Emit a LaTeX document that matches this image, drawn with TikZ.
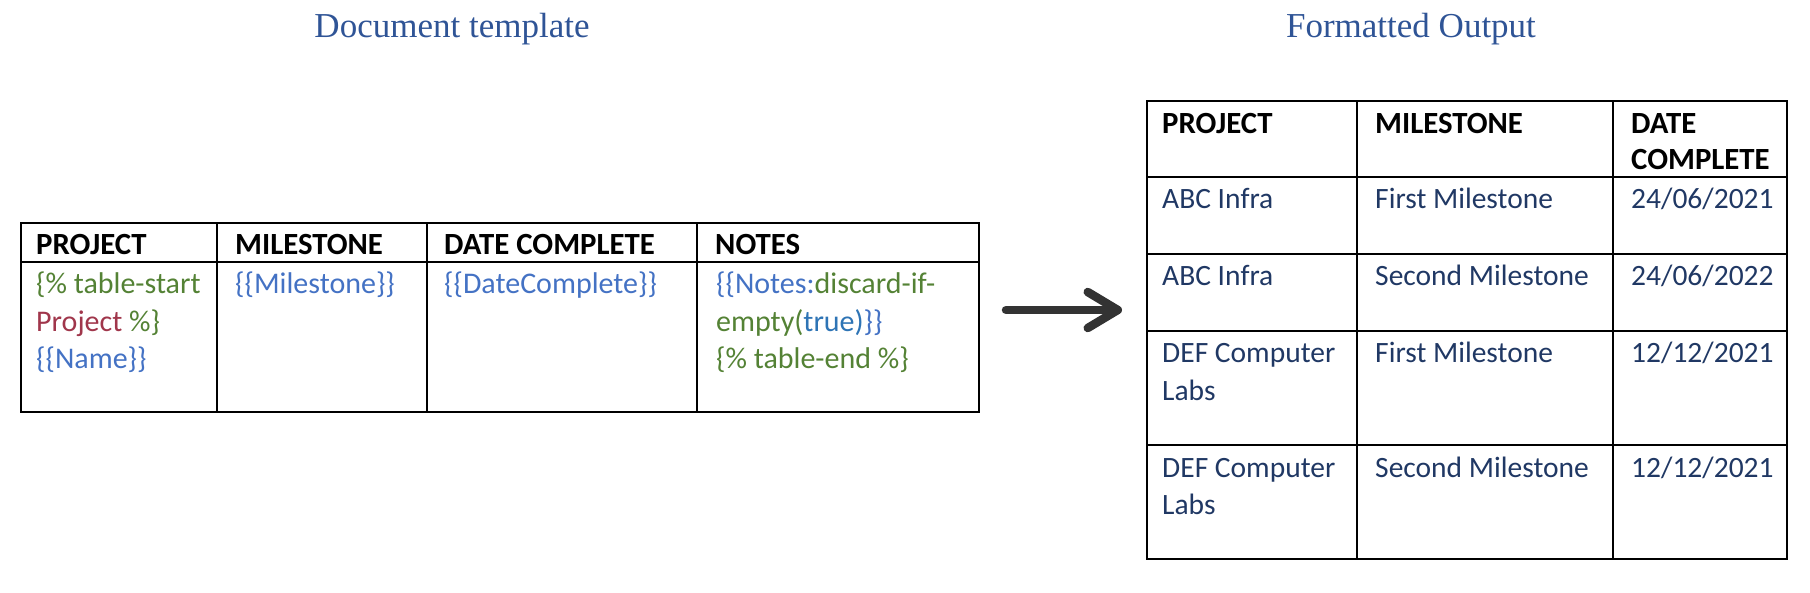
\documentclass[tikz,border=0pt]{standalone}
\usepackage{fontspec}
\setmainfont{Liberation Serif}
\newfontfamily\cellfont{Carlito}
\usetikzlibrary{arrows.meta}
\definecolor{titleblue}{HTML}{2F5496}
\definecolor{tgreen}{HTML}{548235}
\definecolor{tred}{HTML}{A0364B}
\definecolor{tblue}{HTML}{4472C4}
\definecolor{tdblue}{HTML}{2E74B5}
\definecolor{navy}{HTML}{203864}
\definecolor{arrowgray}{HTML}{333333}
\begin{document}
\begin{tikzpicture}[x=1pt,y=-1pt,
  tline/.style={line width=2.6pt, draw=black},
  cell/.style={anchor=base west, inner sep=0pt, font=\cellfont\fontsize{30}{36}\selectfont},
  headcell/.style={anchor=base west, inner sep=0pt, font=\cellfont\bfseries\fontsize{30.8}{36}\selectfont, text=black},
  outcell/.style={anchor=base west, inner sep=0pt, font=\cellfont\fontsize{29.5}{36}\selectfont, text=navy},
  titletext/.style={anchor=base, inner sep=0pt, font=\fontsize{35}{40}\selectfont, text=titleblue},
  bigarrow/.style={line width=8.5pt, draw=arrowgray, line cap=round,
    -{Straight Barb[length=30pt, width=36pt, round]}}
]
\useasboundingbox (0,0) rectangle (1810,592);

% titles
\node[titletext] (t1) at (452,37) {Document template};
\node[titletext] (t2) at (1411,37) {Formatted Output};

% left table grid
\draw[tline] (21,223) rectangle (979,412);
\draw[tline] (21,262) -- (979,262);
\draw[tline] (217,223) -- (217,412);
\draw[tline] (427,223) -- (427,412);
\draw[tline] (697,223) -- (697,412);

% left table header
\node[headcell] (lh1) at (36,254) {PROJECT};
\node[headcell] (lh2) at (235,254) {MILESTONE};
\node[headcell] (lh3) at (444,254) {DATE COMPLETE};
\node[headcell] (lh4) at (715,254) {NOTES};

% left table body
\node[cell, text=tgreen] (lp1) at (36,293) {\{\% table-start};
\node[cell] (lp2) at (36,331) {\textcolor{tred}{Project} \textcolor{tgreen}{\%\}}};
\node[cell, text=tblue] (lp3) at (36,368) {\{\{Name\}\}};
\node[cell, text=tblue] (lm1) at (235,293) {\{\{Milestone\}\}};
\node[cell, text=tblue] (ld1) at (444,293) {\{\{DateComplete\}\}};
\node[cell] (ln1) at (716,293) {\textcolor{tblue}{\{\{Notes:}\textcolor{tgreen}{discard-if-}};
\node[cell] (ln2) at (716,331) {\textcolor{tgreen}{empty(}\textcolor{tdblue}{true)}\textcolor{tblue}{\}\}}};
\node[cell, text=tgreen] (ln3) at (716,368) {\{\% table-end \%\}};

% arrow
\coordinate (arrS) at (1006,310);
\coordinate (arrE) at (1122,310);
\draw[bigarrow] (arrS) -- (arrE);

% right table grid
\draw[tline] (1147,101) rectangle (1787,559);
\draw[tline] (1147,177) -- (1787,177);
\draw[tline] (1147,254) -- (1787,254);
\draw[tline] (1147,331) -- (1787,331);
\draw[tline] (1147,445) -- (1787,445);
\draw[tline] (1357,101) -- (1357,559);
\draw[tline] (1613,101) -- (1613,559);

% right table header
\node[headcell] (rh1) at (1162,133) {PROJECT};
\node[headcell] (rh2) at (1375,133) {MILESTONE};
\node[headcell] (rh3a) at (1631,133) {DATE};
\node[headcell] (rh3b) at (1631,169) {COMPLETE};

% right table rows
\node[outcell] (r1a) at (1162,208) {ABC Infra};
\node[outcell] (r1b) at (1375,208) {First Milestone};
\node[outcell] (r1c) at (1631,208) {24/06/2021};
\node[outcell] (r2a) at (1162,285) {ABC Infra};
\node[outcell] (r2b) at (1375,285) {Second Milestone};
\node[outcell] (r2c) at (1631,285) {24/06/2022};
\node[outcell] (r3a) at (1162,362) {DEF Computer};
\node[outcell] (r3a2) at (1162,400) {Labs};
\node[outcell] (r3b) at (1375,362) {First Milestone};
\node[outcell] (r3c) at (1631,362) {12/12/2021};
\node[outcell] (r4a) at (1162,477) {DEF Computer};
\node[outcell] (r4a2) at (1162,514) {Labs};
\node[outcell] (r4b) at (1375,477) {Second Milestone};
\node[outcell] (r4c) at (1631,477) {12/12/2021};
\end{tikzpicture}
\end{document}
